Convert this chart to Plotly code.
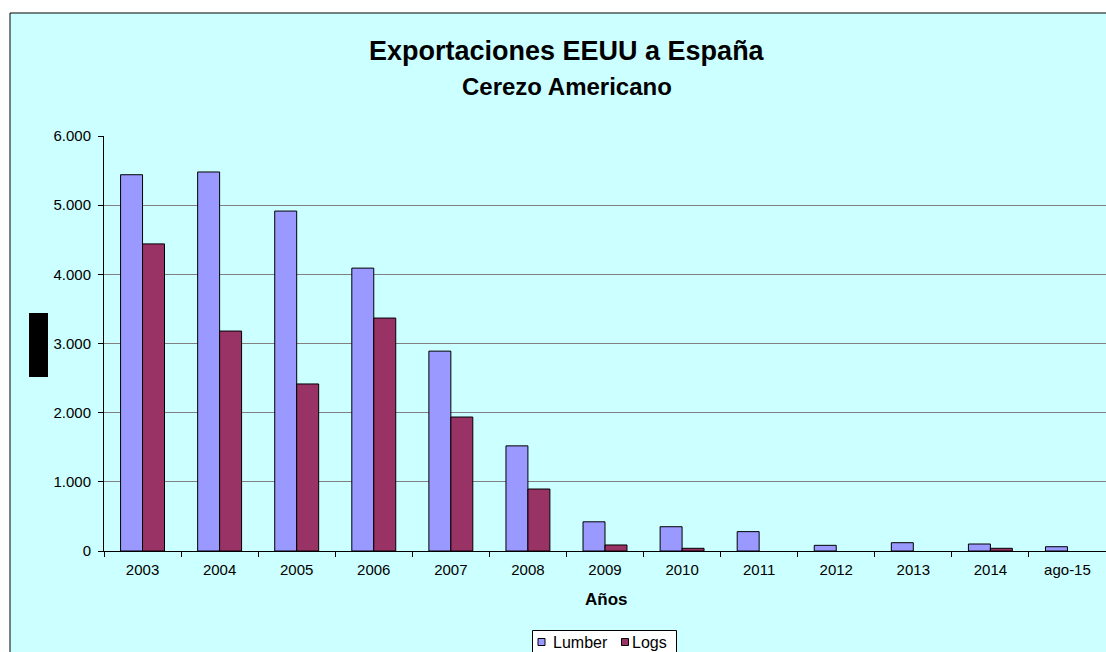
import plotly.graph_objects as go

categories = ["2003", "2004", "2005", "2006", "2007", "2008", "2009", "2010", "2011", "2012", "2013", "2014", "ago-15"]
lumber = [5440, 5480, 4915, 4090, 2890, 1520, 422, 351, 280, 82, 120, 101, 62]
logs = [4440, 3180, 2415, 3368, 1937, 896, 87, 39, None, None, None, 39, None]
y_ticks = [0, 1000, 2000, 3000, 4000, 5000, 6000]
y_ticktext = ["0", "1.000", "2.000", "3.000", "4.000", "5.000", "6.000"]
series_names = ["Lumber", "Logs"]
series_colors = ["#9999FF", "#993366"]

FONT = "Liberation Sans, Arial, sans-serif"
W, H = 1106, 652
L, R, T, B = 104, 0, 136, 101
pw = W - L - R
ph = H - T - B

def px(x):
    return (x - L) / pw

def py(y):
    return (H - B - y) / ph

fig = go.Figure()
for name, vals, col in zip(series_names, [lumber, logs], series_colors):
    fig.add_trace(go.Bar(name=name, x=categories, y=vals, showlegend=False,
                         marker=dict(color=col, line=dict(color="#000000", width=1))))

shapes = [
    dict(type="rect", xref="paper", yref="paper", x0=px(10), y0=py(13), x1=px(1140), y1=py(690),
         fillcolor="#CCFFFF", line=dict(color="#000000", width=1), layer="below"),
    dict(type="rect", xref="paper", yref="paper", x0=px(29), y0=py(313), x1=px(48), y1=py(377),
         fillcolor="#000000", line=dict(width=0), layer="above"),
    dict(type="rect", xref="paper", yref="paper", x0=px(532.5), y0=py(630.5), x1=px(676.5), y1=py(665),
         fillcolor="#FFFFFF", line=dict(color="#000000", width=1), layer="above"),
    dict(type="rect", xref="paper", yref="paper", x0=px(538), y0=py(638.5), x1=px(545), y1=py(645.5),
         fillcolor=series_colors[0], line=dict(color="#000000", width=1), layer="above"),
    dict(type="rect", xref="paper", yref="paper", x0=px(621.5), y0=py(638.5), x1=px(628.5), y1=py(645.5),
         fillcolor=series_colors[1], line=dict(color="#000000", width=1), layer="above"),
]

annotations = [
    dict(text="<b>Exportaciones EEUU a España</b>", xref="paper", yref="paper", x=px(567), y=py(51),
         xanchor="center", yanchor="middle", showarrow=False, font=dict(family=FONT, size=27, color="#000000")),
    dict(text="<b>Cerezo Americano</b>", xref="paper", yref="paper", x=px(567), y=py(86),
         xanchor="center", yanchor="middle", showarrow=False, font=dict(family=FONT, size=24, color="#000000")),
    dict(text="<b>Años</b>", xref="paper", yref="paper", x=px(606), y=py(599),
         xanchor="center", yanchor="middle", showarrow=False, font=dict(family=FONT, size=17, color="#000000")),
    dict(text=series_names[0], xref="paper", yref="paper", x=px(551), y=py(642),
         xanchor="left", yanchor="middle", showarrow=False, font=dict(family=FONT, size=16, color="#000000")),
    dict(text=series_names[1], xref="paper", yref="paper", x=px(630), y=py(642),
         xanchor="left", yanchor="middle", showarrow=False, font=dict(family=FONT, size=16, color="#000000")),
]

fig.update_layout(
    width=W, height=H,
    margin=dict(l=L, r=R, t=T, b=B, pad=0),
    paper_bgcolor="#FFFFFF",
    plot_bgcolor="#FFFFFF",
    barmode="group",
    bargap=0.43,
    bargroupgap=0,
    font=dict(family=FONT, size=15, color="#000000"),
    shapes=shapes,
    annotations=annotations,
    showlegend=False,
    xaxis=dict(showline=True, linecolor="#000000", linewidth=1, ticks="outside", ticklen=5,
               tickcolor="#000000", tickson="boundaries", showgrid=False, zeroline=False,
               ticklabelstandoff=5,
               tickfont=dict(family=FONT, size=15, color="#000000")),
    yaxis=dict(range=[0, 6000], tickvals=y_ticks, ticktext=y_ticktext, showline=True,
               linecolor="#000000", linewidth=1, ticks="outside", ticklen=5, tickcolor="#000000",
               showgrid=True, gridcolor="#808080", gridwidth=1, zeroline=False,
               ticklabelstandoff=4,
               tickfont=dict(family=FONT, size=15, color="#000000")),
)

fig.write_html("out.html", config={"displayModeBar": False},
               post_script="document.body.style.margin='0';document.documentElement.style.overflow='hidden';document.body.style.overflow='hidden';")
